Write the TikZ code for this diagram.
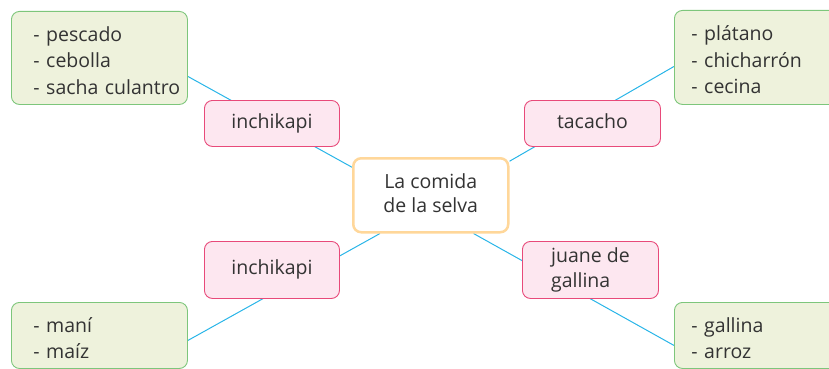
\documentclass[tikz,border=0pt]{standalone}
\usepackage{fontspec}
\setmainfont{Open Sans}
\usetikzlibrary{backgrounds}
\definecolor{ink}{HTML}{333333}
\definecolor{listfill}{HTML}{EEF2DC}
\definecolor{listborder}{HTML}{7DC67B}
\definecolor{dishfill}{HTML}{FDE7F0}
\definecolor{dishborder}{HTML}{E84A7A}
\definecolor{glow}{HTML}{FFD79A}
\definecolor{linkblue}{HTML}{29B5E8}
\newcommand{\listfont}{\fontsize{19.5}{26.5}\selectfont\lineskiplimit=-100pt}
\newcommand{\dishfont}{\fontsize{19.5}{25}\selectfont\lineskiplimit=-100pt}
\newcommand{\titlefont}{\fontsize{19.5}{24}\selectfont\lineskiplimit=-100pt}
\newcommand{\gs}{\rule[-2pt]{0pt}{24pt}}
\newcommand{\ps}{\rule[-6pt]{0pt}{22pt}}

\begin{document}
\begin{tikzpicture}[x=1pt, y=-1pt,
  every node/.style={anchor=north west, inner ysep=0pt, text=ink},
  listbox/.style={draw=listborder, fill=listfill, rounded corners=8pt, line width=0.9pt, align=left, font=\listfont},
  dishbox/.style={draw=dishborder, fill=dishfill, rounded corners=8pt, line width=0.9pt, minimum width=136pt, font=\dishfont},
  titlebox/.style={draw=glow, fill=white, rounded corners=8pt, line width=2.5pt, align=center, minimum width=155pt, minimum height=74pt, font=\titlefont},
  link/.style={draw=linkblue, line width=1pt}]
\useasboundingbox (0,0) rectangle (829,369);
\clip (0,0) rectangle (829,369);

% lists of ingredients
\node[listbox, text width=132pt, inner xsep=22pt, minimum height=93pt] (ltlist) at (11,11)
  {\gs\mbox{- pescado}\\\gs\mbox{- cebolla}\\\gs\mbox{- sacha culantro}};
\node[listbox, text width=142pt, inner xsep=17pt, minimum height=94pt] (rtlist) at (674,10)
  {\gs\mbox{- plátano}\\\gs\mbox{- chicharrón}\\\gs\mbox{- cecina}};
\node[listbox, text width=132pt, inner xsep=22pt, minimum height=66pt] (lblist) at (11,302)
  {\gs\mbox{- maní}\\\gs\mbox{- maíz}};
\node[listbox, text width=142pt, inner xsep=17pt, minimum height=66pt] (rblist) at (674,302)
  {\gs\mbox{- gallina}\\\gs\mbox{- arroz}};

% dishes
\node[dishbox, minimum width=135pt, minimum height=46pt] (lt) at (204,100) {\ps inchikapi};
\node[dishbox, minimum height=46pt] (rt) at (524,100) {\ps tacacho};
\node[dishbox, minimum width=135pt, minimum height=57pt] (lb) at (204,241) {\ps inchikapi};
\node[dishbox, minimum height=57pt, align=left] (rb) at (522,241) {\ps juane de\\\ps gallina};

% centre
\node[titlebox] (ctr) at (352,157) {\ps La comida\\\ps de la selva};

\begin{scope}[on background layer]
\draw[link] ([yshift=-18.5pt]ltlist.east) -- ([yshift=28pt]ctr.west);
\draw[link] ([yshift=34pt]ctr.east) -- ([yshift=-9pt]rtlist.west);
\draw[link] ([xshift=28pt]ctr.south west) -- ([yshift=-5pt]lblist.east);
\draw[link] ([xshift=-36pt]ctr.south east) -- ([yshift=-10pt]rblist.west);
\end{scope}
\end{tikzpicture}
\end{document}
